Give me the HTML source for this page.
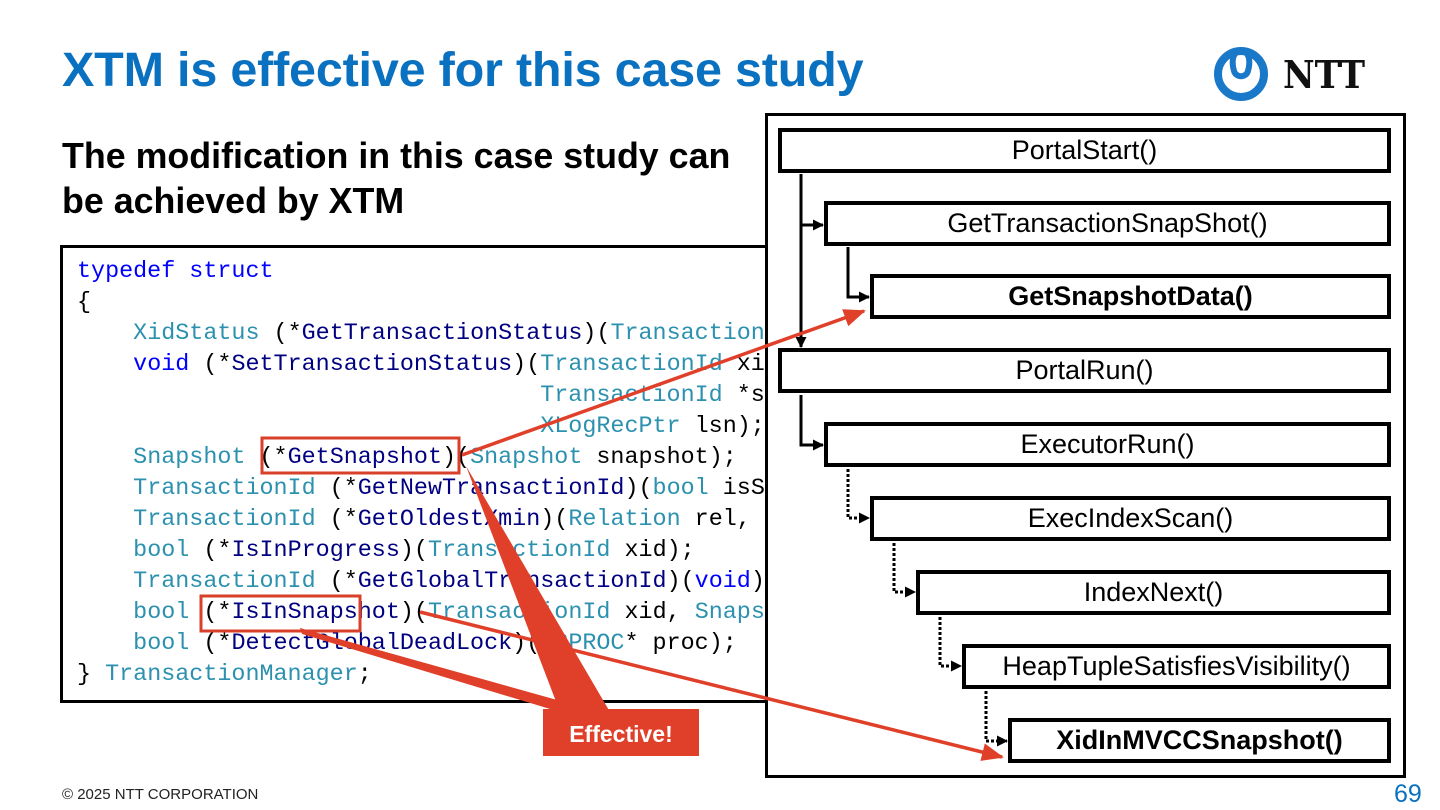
<!DOCTYPE html>
<html><head><meta charset="utf-8"><style>
body{margin:0;width:1440px;height:810px;background:#fff;position:relative;overflow:hidden;font-family:"Liberation Sans",sans-serif}
.abs{position:absolute}
#title{left:62px;top:42px;font-size:48.5px;font-weight:bold;color:#0a70c0;white-space:nowrap;letter-spacing:-0.2px}
#sub{left:62px;top:134px;font-size:35.8px;font-weight:bold;line-height:45px;color:#000;white-space:nowrap}
#code{left:60px;top:245px;width:760px;height:452px;border:3px solid #000;box-sizing:content-box;overflow:hidden}
#code pre{margin:0;position:absolute;left:14px;top:9px;font-family:"Liberation Mono",monospace;font-size:23.4px;line-height:31px;color:#000}
.k{color:#0000ff}.t{color:#2b91af}.f{color:#000080}
#panel{left:765px;top:113px;width:635px;height:659px;border:3px solid #000;background:#fff}
.box{position:absolute;border:4px solid #000;background:#fff;height:37px;box-sizing:content-box;text-align:center;font-size:27px;line-height:37px;color:#000;white-space:nowrap}
.b{font-weight:bold}
</style></head><body>
<div id="title" class="abs">XTM is effective for this case study</div>
<div id="sub" class="abs">The modification in this case study can<br>be achieved by XTM</div>
<div id="code" class="abs"><pre><span class="k">typedef struct</span>
{
    <span class="t">XidStatus</span> (*<span class="f">GetTransactionStatus</span>)(<span class="t">TransactionId</span> xid);
    <span class="k">void</span> (*<span class="f">SetTransactionStatus</span>)(<span class="t">TransactionId</span> xid,
                                 <span class="t">TransactionId</span> *sub,
                                 <span class="t">XLogRecPtr</span> lsn);
    <span class="t">Snapshot</span> (*<span class="f">GetSnapshot</span>)(<span class="t">Snapshot</span> snapshot);
    <span class="t">TransactionId</span> (*<span class="f">GetNewTransactionId</span>)(<span class="t">bool</span> isSub);
    <span class="t">TransactionId</span> (*<span class="f">GetOldestXmin</span>)(<span class="t">Relation</span> rel, int);
    <span class="t">bool</span> (*<span class="f">IsInProgress</span>)(<span class="t">TransactionId</span> xid);
    <span class="t">TransactionId</span> (*<span class="f">GetGlobalTransactionId</span>)(<span class="k">void</span>);
    <span class="t">bool</span> (*<span class="f">IsInSnapshot</span>)(<span class="t">TransactionId</span> xid, <span class="t">Snapshot</span> s);
    <span class="t">bool</span> (*<span class="f">DetectGlobalDeadLock</span>)(<span class="t">PGPROC</span>* proc);
} <span class="t">TransactionManager</span>;</pre></div>
<div id="panel" class="abs"></div>
<div class="box" style="left:778px;top:128px;width:605px">PortalStart()</div>
<div class="box" style="left:824px;top:201px;width:559px">GetTransactionSnapShot()</div>
<div class="box b" style="left:870px;top:274px;width:513px">GetSnapshotData()</div>
<div class="box" style="left:778px;top:348px;width:605px">PortalRun()</div>
<div class="box" style="left:824px;top:422px;width:559px">ExecutorRun()</div>
<div class="box" style="left:870px;top:496px;width:513px">ExecIndexScan()</div>
<div class="box" style="left:916px;top:570px;width:467px">IndexNext()</div>
<div class="box" style="left:962px;top:644px;width:421px">HeapTupleSatisfiesVisibility()</div>
<div class="box b" style="left:1008px;top:718px;width:375px">XidInMVCCSnapshot()</div>
<svg class="abs" style="left:0;top:0" width="1440" height="810">
<defs>
<marker id="a" markerWidth="11" markerHeight="11" refX="10" refY="5.5" orient="auto" markerUnits="userSpaceOnUse"><path d="M0,0L11,5.5L0,11z" fill="#000"/></marker>
<marker id="r" markerWidth="22" markerHeight="18" refX="20" refY="9" orient="auto" markerUnits="userSpaceOnUse"><path d="M0,0L22,9L0,18z" fill="#e0402a"/></marker>
</defs>
<g stroke="#000" stroke-width="3" fill="none">
<path d="M801,174V347" marker-end="url(#a)"/>
<path d="M801,225H823" marker-end="url(#a)"/>
<path d="M848,247V297H869" marker-end="url(#a)"/>
<path d="M801,395V445H823" marker-end="url(#a)"/>
<g stroke-dasharray="3,2">
<path d="M848,469V518H869" marker-end="url(#a)"/>
<path d="M894,543V592H915" marker-end="url(#a)"/>
<path d="M940,617V666H961" marker-end="url(#a)"/>
<path d="M986,691V741H1007" marker-end="url(#a)"/>
</g></g>
<rect x="262" y="438" width="197" height="35" fill="none" stroke="#d9402a" stroke-width="3"/>
<rect x="201" y="596" width="159" height="35" fill="none" stroke="#d9402a" stroke-width="3"/>
<g fill="#e0402a">
<polygon points="466,466 560,712 610,712"/>
<polygon points="300,628 302,634 560,712 600,712"/>
</g>
<g stroke="#e0402a" stroke-width="3.5" fill="none">
<path d="M462,455L864,311" marker-end="url(#r)"/>
<path d="M420,612L1002,757" marker-end="url(#r)"/>
</g>
<rect x="543" y="709" width="156" height="47" fill="#e0402a"/>
<text x="621" y="742" text-anchor="middle" font-family="Liberation Sans" font-weight="bold" font-size="23" fill="#fff">Effective!</text>
<circle cx="1241" cy="74" r="23" fill="none" stroke="#1a78c8" stroke-width="8"/>
<path d="M1241,50 C1231,52 1232,64 1234,71 C1236,78 1246,78 1248,71 C1250,64 1251,52 1241,50z" fill="none" stroke="#1a78c8" stroke-width="6"/>
<text x="1283" y="88" font-family="DejaVu Serif" font-weight="bold" font-size="38" fill="#111" textLength="82" lengthAdjust="spacingAndGlyphs">NTT</text>
</svg>
<div class="abs" style="left:62px;top:786px;font-size:15px;color:#222">© 2025 NTT CORPORATION</div>
<div class="abs" style="left:1394px;top:780px;font-size:25px;color:#0a70c0">69</div>
</body></html>
